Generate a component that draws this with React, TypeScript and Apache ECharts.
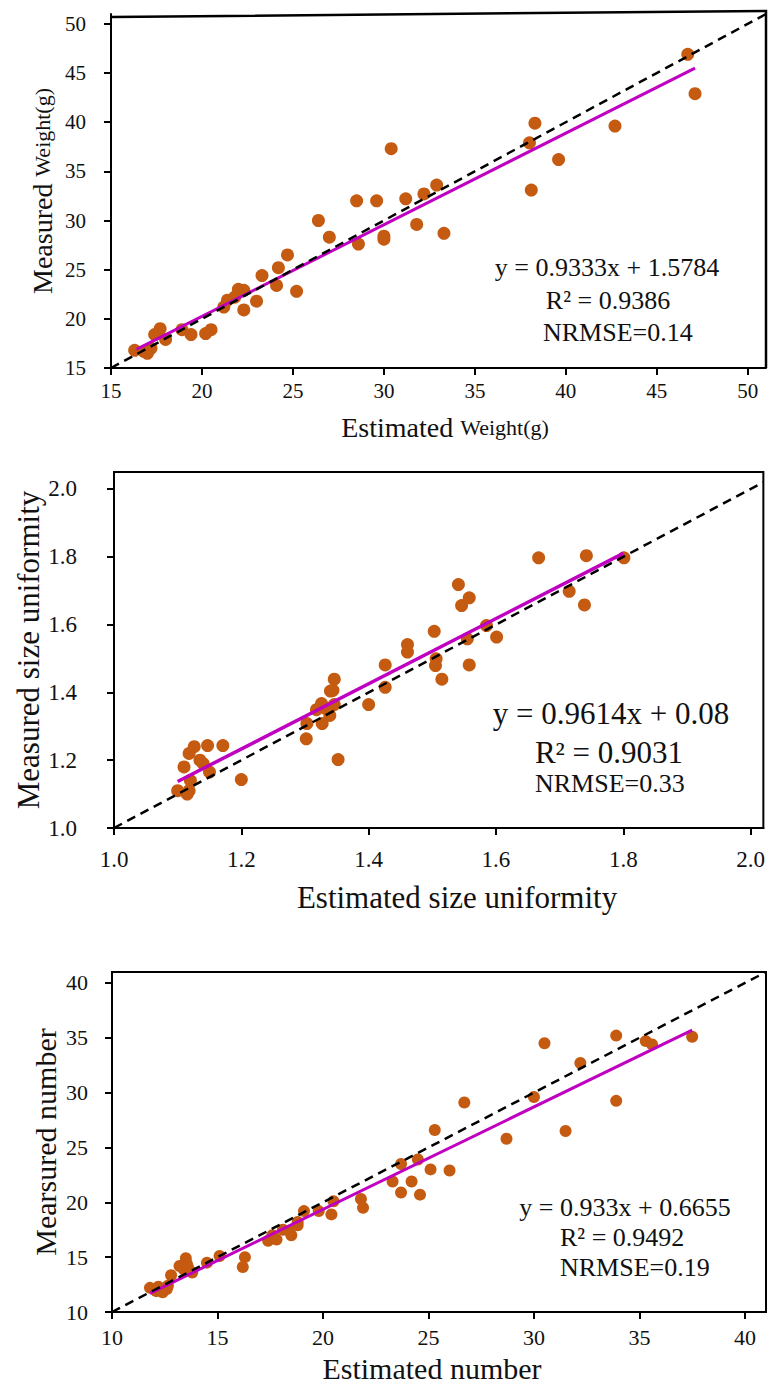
import React, { useEffect, useRef } from "react";
import * as echarts from "echarts";

// ---- Panel 1: weight ----
const weightEst = [16.3, 16.8, 17.0, 17.2, 17.4, 17.7, 18.0, 18.9, 19.4, 20.2, 20.5, 21.2, 21.4, 21.8, 22.0, 22.3, 22.3, 23.0, 23.3, 24.1, 24.2, 24.7, 25.2, 26.4, 27.0, 28.5, 28.6, 29.6, 30.0, 30.0, 30.4, 31.2, 31.8, 32.2, 32.9, 33.3, 38.0, 38.1, 38.3, 39.6, 42.7, 46.7, 47.1];
const weightMeas = [16.8, 16.7, 16.5, 17.0, 18.4, 19.0, 17.9, 18.9, 18.4, 18.5, 18.9, 21.2, 21.9, 22.2, 23.0, 22.9, 20.9, 21.8, 24.4, 23.4, 25.2, 26.5, 22.8, 30.0, 28.3, 32.0, 27.6, 32.0, 28.1, 28.4, 37.3, 32.2, 29.6, 32.7, 33.6, 28.7, 37.9, 33.1, 39.9, 36.2, 39.6, 46.9, 42.9];
const weightFitX = [16.4, 47.1];
const weightFitY = [16.9, 45.5];
const weightTicks = [15, 20, 25, 30, 35, 40, 45, 50];
const weightText = ["y = 0.9333x + 1.5784", "R\u00B2 = 0.9386", "NRMSE=0.14"];

// ---- Panel 2: size uniformity ----
const unifEst = [1.10, 1.115, 1.118, 1.12, 1.11, 1.118, 1.126, 1.135, 1.14, 1.15, 1.147, 1.171, 1.20, 1.302, 1.303, 1.318, 1.326, 1.327, 1.333, 1.339, 1.34, 1.344, 1.346, 1.346, 1.352, 1.40, 1.426, 1.426, 1.461, 1.461, 1.503, 1.506, 1.505, 1.515, 1.541, 1.546, 1.558, 1.555, 1.558, 1.585, 1.601, 1.667, 1.715, 1.739, 1.742, 1.801];
const unifMeas = [1.11, 1.10, 1.11, 1.14, 1.18, 1.22, 1.24, 1.20, 1.19, 1.165, 1.243, 1.243, 1.143, 1.263, 1.308, 1.349, 1.367, 1.308, 1.352, 1.332, 1.404, 1.406, 1.439, 1.364, 1.202, 1.364, 1.481, 1.415, 1.541, 1.519, 1.58, 1.499, 1.479, 1.439, 1.718, 1.656, 1.679, 1.558, 1.481, 1.597, 1.563, 1.797, 1.698, 1.658, 1.803, 1.797];
const unifFitX = [1.10, 1.80];
const unifFitY = [1.137, 1.81];
const unifTicks = [1.0, 1.2, 1.4, 1.6, 1.8, 2.0];
const unifText = ["y = 0.9614x + 0.08", "R\u00B2 = 0.9031", "NRMSE=0.33"];

// ---- Panel 3: number ----
const numEst = [11.8, 12.1, 12.2, 12.4, 12.6, 12.65, 12.8, 13.2, 13.4, 13.5, 13.55, 13.6, 13.8, 14.5, 15.1, 16.2, 16.3, 17.4, 17.6, 17.8, 18.1, 18.5, 18.4, 18.8, 18.8, 19.1, 19.8, 20.4, 20.5, 21.8, 21.9, 23.3, 23.7, 23.7, 24.2, 24.5, 24.6, 25.1, 26.0, 25.3, 26.7, 28.7, 30.0, 30.5, 31.5, 32.2, 33.9, 33.9, 35.3, 35.6, 37.5];
const numMeas = [12.2, 11.9, 12.3, 11.8, 12.1, 12.4, 13.35, 14.2, 13.9, 14.9, 14.4, 14.1, 13.6, 14.5, 15.1, 14.1, 15.0, 16.5, 17.0, 16.6, 17.5, 17.0, 17.4, 17.9, 18.2, 19.2, 19.2, 18.9, 20.1, 20.3, 19.5, 21.9, 23.5, 20.9, 21.9, 23.9, 20.7, 23.0, 22.9, 26.6, 29.1, 25.8, 29.6, 34.5, 26.5, 32.7, 35.2, 29.25, 34.7, 34.4, 35.1];
const numFitX = [11.8, 37.5];
const numFitY = [11.7, 35.7];
const numTicks = [10, 15, 20, 25, 30, 35, 40];
const numText = ["y = 0.933x + 0.6655", "R\u00B2 = 0.9492", "NRMSE=0.19"];

const FONT = "Liberation Serif";
const DOT = "#C55A11";
const FIT = "#C000C0";
const TXT = "#111";

function zip(a: number[], b: number[]) {
  return a.map((v, i) => [v, b[i]]);
}

function makeAxis(idx: number, min: number, max: number, ticks: number[], fontSize: number, margin: number, dec: number) {
  return {
    type: "value",
    gridIndex: idx,
    min,
    max,
    splitLine: { show: false },
    axisLine: { show: true, onZero: false, lineStyle: { color: "#000", width: 2 } },
    axisTick: { show: true, inside: false, length: 7, customValues: ticks, lineStyle: { color: "#000", width: 2 } },
    axisLabel: {
      customValues: ticks,
      margin,
      fontFamily: FONT,
      fontSize,
      color: TXT,
      formatter: (v: number) => v.toFixed(dec),
    },
  };
}

export default function App() {
  const ref = useRef<HTMLDivElement>(null);
  useEffect(() => {
    if (!ref.current) return;
    const chart = echarts.init(ref.current, undefined, { renderer: "svg" });
    const grids = [
      { left: 111, top: 14, width: 655, height: 354, show: false },
      { left: 114, top: 472, width: 651, height: 356, show: true },
      { left: 112, top: 972, width: 654, height: 340, show: true },
    ].map((g) => ({ ...g, borderColor: "#000", borderWidth: 2, backgroundColor: "transparent", containLabel: false }));

    const scatter = (idx: number, x: number[], y: number[], size: number) => ({
      type: "scatter",
      xAxisIndex: idx,
      yAxisIndex: idx,
      data: zip(x, y),
      symbolSize: size,
      itemStyle: { color: DOT, opacity: 1 },
      z: 2,
      silent: true,
    });
    const line = (idx: number, data: number[][], color: string, width: number, dashed: boolean) => ({
      type: "line",
      xAxisIndex: idx,
      yAxisIndex: idx,
      data,
      symbol: "none",
      lineStyle: { color, width, type: dashed ? [9, 6] : "solid" },
      z: dashed ? 4 : 3,
      silent: true,
    });

    const txt = (x: number, y: number, text: string, size: number, align: string = "center") => ({
      type: "text",
      x,
      y,
      style: { text, fontFamily: FONT, fontSize: size, fill: TXT, textAlign: align, textVerticalAlign: "middle" },
      silent: true,
    });

    const richTitle = (x: number, y: number, a: string, b: string, sa: number, sb: number, rot: number) => ({
      type: "text",
      x,
      y,
      rotation: rot,
      style: {
        text: b ? `{a|${a}} {b|${b}}` : `{a|${a}}`,
        textAlign: "center",
        textVerticalAlign: "middle",
        fontFamily: FONT,
        fontSize: sa,
        fill: TXT,
        rich: {
          a: { fontFamily: FONT, fontSize: sa, fill: TXT, color: TXT },
          b: { fontFamily: FONT, fontSize: sb, fill: TXT, color: TXT },
        },
      },
      silent: true,
    });

    const option = {
      animation: false,
      grid: grids,
      xAxis: [
        makeAxis(0, 15, 51, weightTicks, 21, 12, 0),
        makeAxis(1, 1.0, 2.02, unifTicks, 23, 20, 1),
        makeAxis(2, 10, 41, numTicks, 22, 14, 0),
      ],
      yAxis: [
        makeAxis(0, 15, 51, weightTicks, 21, 25, 0),
        makeAxis(1, 1.0, 2.05, unifTicks, 23, 37, 1),
        makeAxis(2, 10, 41, numTicks, 22, 24, 0),
      ],
      series: [
        scatter(0, weightEst, weightMeas, 13),
        line(0, [[15, 15], [51, 51]], "#000", 2.5, true),
        line(0, zip(weightFitX, weightFitY), FIT, 3, false),
        scatter(1, unifEst, unifMeas, 13),
        line(1, [[1.0, 1.0], [2.02, 2.02]], "#000", 2.5, true),
        line(1, zip(unifFitX, unifFitY), FIT, 3.5, false),
        scatter(2, numEst, numMeas, 12),
        line(2, [[10, 10], [41, 41]], "#000", 2.5, true),
        line(2, zip(numFitX, numFitY), FIT, 3, false),
      ],
      graphic: [
        // panel 1 frame (top edge slightly tilted as in the source figure)
        { type: "polyline", shape: { points: [[111, 17], [766, 11], [766, 368]] }, style: { stroke: "#000", lineWidth: 2.5, fill: null }, silent: true },
        txt(607, 267, weightText[0], 26),
        txt(608, 300, weightText[1], 26),
        txt(543, 332, weightText[2], 26, "left"),
        txt(611, 713, unifText[0], 31),
        txt(609, 752, unifText[1], 31),
        txt(535, 783, unifText[2], 26, "left"),
        txt(625, 1207, numText[0], 26),
        txt(560, 1237, numText[1], 26, "left"),
        txt(560, 1267, numText[2], 26, "left"),
        richTitle(42, 191, "Measured", "Weight(g)", 28, 22, Math.PI / 2),
        richTitle(445, 427, "Estimated", "Weight(g)", 28, 22, 0),
        richTitle(28, 650, "Measured size uniformity", "", 31, 31, Math.PI / 2),
        richTitle(457, 897, "Estimated size uniformity", "", 31, 31, 0),
        richTitle(45, 1142, "Mearsured number", "", 30, 30, Math.PI / 2),
        richTitle(432, 1368, "Estimated number", "", 30, 30, 0),
      ],
    };
    chart.setOption(option as any);
    return () => chart.dispose();
  }, []);
  return <div ref={ref} style={{ position: "absolute", left: 0, top: 0, width: 768, height: 1388 }} />;
}
